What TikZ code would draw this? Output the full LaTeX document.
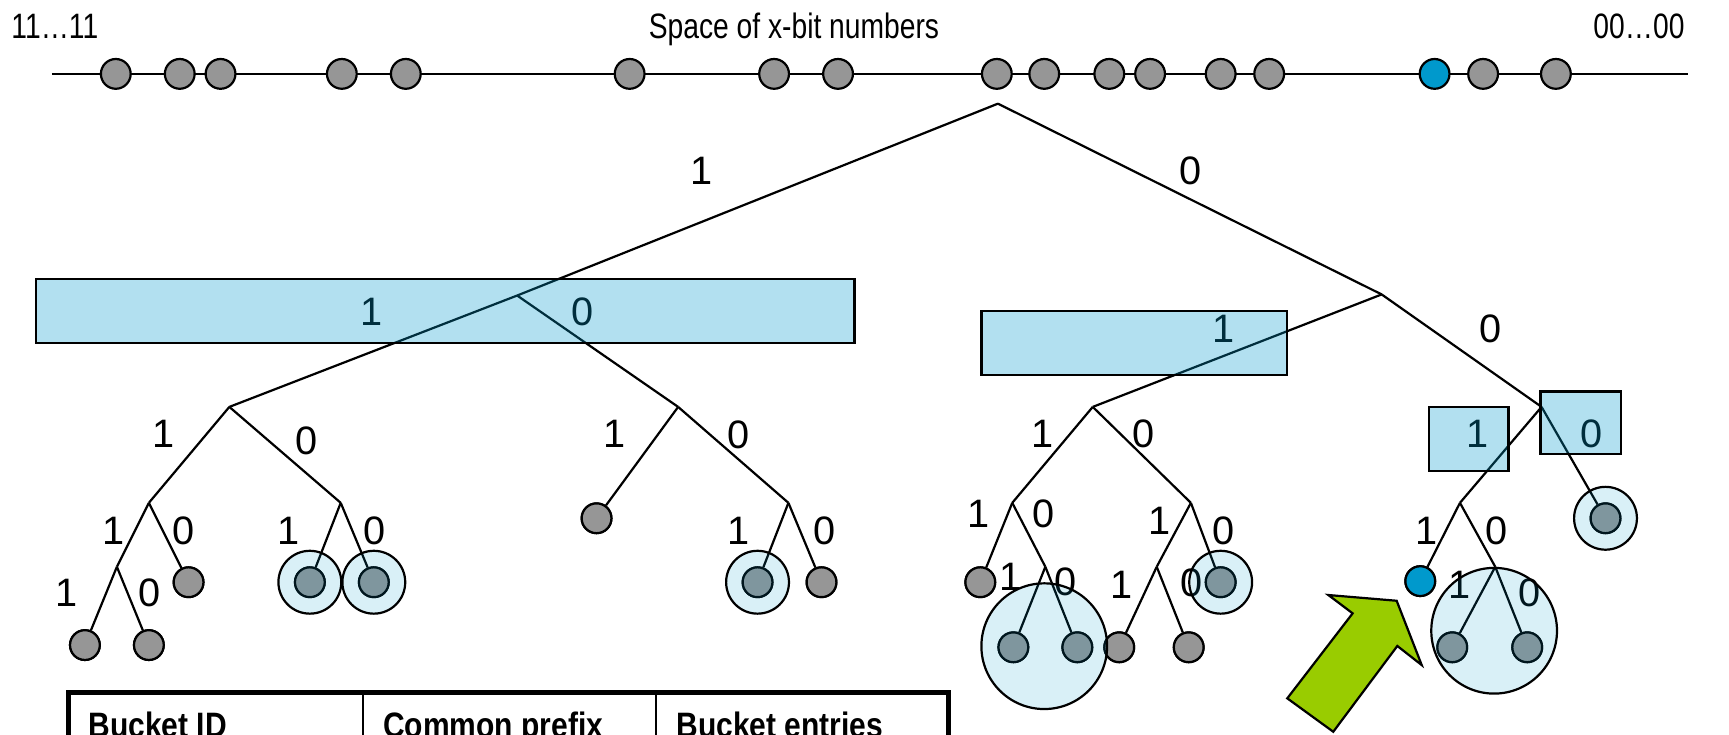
\documentclass[tikz,border=0pt]{standalone}
\usepackage{fontspec}
\setmainfont{Liberation Sans}
\newfontfamily\condsans[FakeStretch=0.8]{Liberation Sans}
\newfontfamily\headsans[FakeStretch=0.85]{Liberation Sans}
\definecolor{nodegray}{RGB}{150,150,150}
\definecolor{nodeblue}{RGB}{0,153,204}
\definecolor{hlblue}{RGB}{0,153,204}
\definecolor{arrowgreen}{RGB}{153,204,0}
\begin{document}
\begin{tikzpicture}[x=0.5pt,y=-0.5pt,
  edge/.style={line width=1pt},
  numline/.style={line width=1.1pt},
  leaf/.style={circle,draw=black,line width=1pt,fill=nodegray,minimum size=13.5pt,inner sep=0pt},
  blueleaf/.style={leaf,fill=nodeblue},
  ring/.style={circle,draw=black,line width=1pt,fill=hlblue,fill opacity=0.15,draw opacity=1,minimum size=28.5pt,inner sep=0pt},
  bigring/.style={ring,minimum size=57pt},
  bitbox/.style={draw=black,line width=1pt,fill=hlblue,fill opacity=0.3,draw opacity=1},
  lbl/.style={inner sep=0pt,font=\fontsize{18}{21}\selectfont},
  toptext/.style={inner sep=0pt,font=\condsans\fontsize{16}{19}\selectfont},
  headtext/.style={inner sep=0pt,font=\headsans\fontsize{16}{19}\selectfont\bfseries},
  bigarrow/.style={draw=black,line width=1pt,fill=arrowgreen,line join=miter}
]
\clip (0,0) rectangle (1568,666);

% ---- the number space ----
\node[toptext,anchor=base west] (lo) at (10,35) {11…11};
\node[toptext,anchor=base] (title) at (720,35) {Space of x-bit numbers};
\node[toptext,anchor=base east] (hi) at (1528,35) {00…00};
\coordinate (nlL) at (47,67);
\coordinate (nlR) at (1531,67);
\draw[numline] (nlL) -- (nlR);
\foreach \x [count=\i] in {105,163,200,310,368,571,702,760,904,947,1006,1043,1107,1151,1345,1411}
  \node[leaf] (dot\i) at (\x,67) {};
\node[blueleaf] (dotb) at (1301,67) {};

% ---- inner nodes of the trie ----
\coordinate (root) at (905,94);
\coordinate (L) at (469,268);
\coordinate (R) at (1253,267);
\coordinate (LL) at (208,369);
\coordinate (LR) at (615,369);
\coordinate (RL) at (991,369);
\coordinate (RR) at (1398,369);
\coordinate (LLL) at (135,456);
\coordinate (LLR) at (309,456);
\coordinate (LRR) at (715,456);
\coordinate (RLL) at (918,456);
\coordinate (RLR) at (1080,456);
\coordinate (RRL) at (1324,456);
\coordinate (LLLL) at (106,514);
\coordinate (RLLR) at (948,514);
\coordinate (RLRL) at (1049,514);
\coordinate (RRLR) at (1356,514);

% ---- leaves ----
\node[leaf] (a1) at (77,585) {};
\node[leaf] (a2) at (135,585) {};
\node[leaf] (a3) at (171,528) {};
\node[leaf] (a4) at (281,528) {};
\node[leaf] (a5) at (339,528) {};
\node[leaf] (a6) at (541,470) {};
\node[leaf] (a7) at (687,528) {};
\node[leaf] (a8) at (745,528) {};
\node[leaf] (b1) at (889,528) {};
\node[leaf] (b2) at (919,587) {};
\node[leaf] (b3) at (977,587) {};
\node[leaf] (b4) at (1015,587) {};
\node[leaf] (b5) at (1078,587) {};
\node[leaf] (b6) at (1107,528) {};
\node[blueleaf] (b7) at (1288,527) {};
\node[leaf] (b8) at (1317,587) {};
\node[leaf] (b9) at (1385,587) {};
\node[leaf] (b10) at (1456,470) {};

% ---- edges ----
\foreach \p/\c in {root/L,root/R,L/LL,L/LR,R/RL,R/RR,
  LL/LLL,LL/LLR,LR/a6,LR/LRR,RL/RLL,RL/RLR,RR/RRL,RR/b10,
  LLL/LLLL,LLL/a3,LLR/a4,LLR/a5,LRR/a7,LRR/a8,RLL/b1,RLL/RLLR,
  RLR/RLRL,RLR/b6,RRL/b7,RRL/RRLR,
  LLLL/a1,LLLL/a2,RLLR/b2,RLLR/b3,RLRL/b4,RLRL/b5,RRLR/b8,RRLR/b9}
  \draw[edge] (\p) -- (\c);

% ---- redraw leaves above the edges ----
\foreach \n in {a1,a2,a3,a4,a5,a6,a7,a8,b1,b2,b3,b4,b5,b6,b8,b9,b10}
  \node[leaf] at (\n) {};
\node[blueleaf] at (b7) {};

% ---- bit labels ----
\foreach \x/\y/\t [count=\i] in {636/155/1,1080/155/0,
  337/283/1,528/283/0,1110/298/1,1352/298/0,
  148/393/1,278/400/0,557/393/1,670/394/0,
  945/393/1,1037/393/0,1340/393/1,1443/393/0,
  103/481/1,166/481/0,262/481/1,340/481/0,
  670/481/1,748/481/0,887/466/1,946/466/0,
  1052/472/1,1110/481/0,1294/481/1,1357/481/0,
  60/538/1,136/538/0,916/523/1,966/528/0,
  1017/530/1,1081/529/0,1324/530/1,1387/538/0}
  \node[lbl] (bit\i) at (\x,\y) {\t};

% ---- buckets ----
\node[ring] (k1) at (a4) {};
\node[ring] (k2) at (a5) {};
\node[ring] (k3) at (a7) {};
\node[ring] (k4) at (b6) {};
\node[ring] (k5) at (b10) {};
\node[bigring] (k6) at (947,586) {};
\node[bigring] (k7) at (1355,572) {};

% ---- prefix boxes ----
\draw[bitbox] (33,253) rectangle (775,311);
\draw[bitbox] (890,282) rectangle (1167,340);
\draw[bitbox] (1296,369) rectangle (1368,427);
\draw[bitbox] (1397,355) rectangle (1470,412);

% ---- pointer arrow ----
\draw[bigarrow] (1204.6,539.6) -- (1266.6,544.8) -- (1289.3,603.1) -- (1267.2,585.8)
  -- (1209.1,663.6) -- (1167.4,633.3) -- (1226.7,556.2) -- cycle;

% ---- routing table header ----
\draw[line width=2.2pt] (62,720) -- (62,628) -- (860,628) -- (860,720);
\draw[line width=1pt] (329,628) -- (329,720);
\draw[line width=1pt] (595,628) -- (595,720);
\node[headtext,anchor=base west] (h1) at (80,669) {Bucket ID};
\node[headtext,anchor=base west] (h2) at (347,669) {Common prefix};
\node[headtext,anchor=base west] (h3) at (613,669) {Bucket entries};
\end{tikzpicture}
\end{document}
